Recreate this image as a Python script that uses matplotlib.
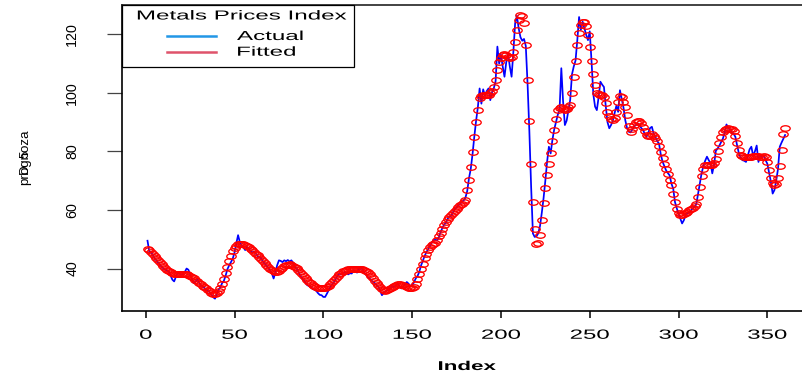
import numpy as np
import matplotlib
matplotlib.use("Agg")
import matplotlib.pyplot as plt
from matplotlib.patheffects import AbstractPathEffect
from matplotlib.transforms import Affine2D
from matplotlib.path import Path
from matplotlib.patches import Rectangle
from matplotlib.lines import Line2D

plt.rcParams['font.family'] = ['Liberation Sans', 'DejaVu Sans']

# fitted values (red circles)
fitted = [
    46.6, 46.2, 45.6, 45.0, 44.3, 43.6, 42.9, 42.2, 41.5, 40.8,
    40.2, 39.6, 39.1, 38.7, 38.4, 38.3, 38.2, 38.2, 38.2, 38.2,
    38.2, 38.1, 38.0, 37.8, 37.5, 37.1, 36.7, 36.2, 35.7, 35.2,
    34.7, 34.2, 33.7, 33.2, 32.7, 32.2, 31.7, 31.4, 31.3, 31.6,
    32.3, 33.3, 34.7, 36.4, 38.4, 40.5, 42.6, 44.4, 45.9, 47.0,
    47.8, 48.3, 48.5, 48.5, 48.3, 48.0, 47.6, 47.2, 46.7, 46.2,
    45.7, 45.1, 44.5, 43.9, 43.3, 42.6, 42.0, 41.3, 40.6, 40.0,
    39.4, 39.0, 38.8, 38.9, 39.3, 39.8, 40.3, 40.8, 41.1, 41.3,
    41.4, 41.3, 41.0, 40.6, 40.1, 39.5, 38.9, 38.2, 37.5, 36.8,
    36.1, 35.5, 34.9, 34.4, 34.0, 33.7, 33.5, 33.3, 33.2, 33.2,
    33.3, 33.6, 34.1, 34.7, 35.4, 36.1, 36.8, 37.5, 38.1, 38.6,
    39.0, 39.3, 39.6, 39.8, 39.9, 40.0, 40.0, 40.0, 40.0, 40.0,
    39.9, 39.8, 39.6, 39.3, 38.8, 38.2, 37.5, 36.7, 35.9, 35.1,
    34.3, 33.6, 33.0, 32.6, 32.5, 32.6, 32.9, 33.3, 33.7, 34.1,
    34.4, 34.6, 34.6, 34.5, 34.3, 34.0, 33.7, 33.4, 33.2, 33.3,
    33.8, 34.8, 36.3, 38.0, 39.8, 41.7, 43.5, 45.1, 46.4, 47.4,
    47.9, 48.3, 48.8, 49.8, 51.0, 52.3, 53.6, 54.8, 55.9, 56.8,
    57.5, 58.2, 58.9, 59.7, 60.5, 61.1, 61.7, 62.2, 62.8, 63.4,
    66.8, 70.2, 74.7, 79.9, 85.0, 90.1, 94.1, 98.1, 99.0, 99.3,
    99.4, 99.3, 99.4, 99.8, 100.5, 102.0, 104.4, 107.8, 110.5, 112.0,
    112.8, 113.2, 112.8, 112.3, 111.8, 112.3, 114.0, 117.5, 121.5, 125.0,
    126.6, 126.2, 123.8, 116.3, 104.4, 90.3, 75.7, 62.8, 53.4, 48.4,
    48.6, 51.4, 56.7, 62.4, 67.6, 72.0, 75.7, 79.5, 83.5, 87.3,
    91.0, 94.1, 94.8, 95.0, 94.6, 94.2, 94.5, 95.0, 95.8, 100.0,
    105.5, 110.9, 116.3, 120.3, 123.2, 124.3, 124.3, 122.8, 119.8, 115.8,
    110.9, 106.3, 102.7, 100.0, 99.6, 99.4, 99.2, 98.7, 96.4, 93.5,
    92.0, 91.2, 90.8, 91.5, 93.5, 97.0, 99.0, 98.5, 97.0, 95.0,
    92.5, 88.6, 86.7, 87.5, 89.0, 90.0, 90.5, 90.3, 89.6, 88.3,
    86.8, 85.6, 85.3, 85.4, 85.8, 85.4, 84.6, 83.6, 82.0, 79.8,
    77.8, 75.8, 74.0, 72.2, 70.4, 68.5, 65.6, 62.6, 60.2, 58.8,
    58.3, 58.2, 58.5, 58.9, 59.4, 59.9, 60.4, 60.8, 61.3, 62.2,
    64.5, 68.0, 71.5, 74.0, 75.2, 75.4, 75.3, 75.2, 75.4, 76.0,
    77.5, 80.2, 82.8, 85.0, 86.5, 87.3, 87.8, 87.9, 87.8, 87.5,
    86.8, 85.2, 83.0, 80.5, 78.9, 78.3, 78.1, 78.0, 78.0, 78.1,
    78.2, 78.3, 78.4, 78.4, 78.3, 78.2, 78.2, 78.3, 78.0, 76.5,
    73.8, 71.0, 69.2, 68.5, 68.8, 71.0, 75.0, 80.5, 85.8, 88.0,
]

# actual values (blue line)
actual = [
    49.5, 45.8, 45.6, 44.6, 43.5, 42.8, 42.0, 41.2, 40.6, 40.0,
    39.6, 39.4, 38.8, 37.6, 36.2, 35.6, 37.2, 38.6, 38.3, 37.8,
    38.2, 38.8, 40.0, 39.6, 38.0, 36.4, 35.0, 35.6, 36.2, 35.2,
    34.4, 33.8, 33.4, 32.6, 32.4, 31.9, 31.0, 30.2, 29.7, 31.2,
    32.8, 33.6, 35.0, 35.8, 37.6, 39.8, 41.1, 42.2, 43.4, 45.5,
    48.6, 51.4, 49.0, 48.0, 47.2, 46.3, 47.4, 46.8, 46.0, 45.5,
    45.8, 45.1, 44.2, 44.0, 43.4, 42.4, 41.7, 41.0, 40.2, 39.4,
    38.4, 36.6, 38.6, 41.1, 42.8, 42.6, 42.2, 42.8, 42.5, 42.9,
    42.4, 42.8, 42.0, 40.6, 40.0, 38.8, 37.6, 36.6, 36.0, 35.2,
    34.3, 34.0, 33.8, 33.0, 32.8, 32.4, 31.6, 31.0, 30.9, 30.3,
    30.3, 31.4, 32.6, 33.8, 34.6, 35.4, 36.5, 37.6, 38.3, 38.0,
    38.4, 38.8, 38.6, 38.0, 38.4, 38.3, 39.4, 39.0, 38.6, 39.8,
    40.6, 39.6, 38.6, 38.0, 37.1, 36.6, 36.0, 35.4, 35.0, 34.4,
    33.7, 32.4, 30.9, 31.6, 32.2, 32.6, 33.0, 33.6, 34.0, 33.7,
    34.2, 34.8, 33.8, 33.2, 33.8, 34.6, 35.4, 34.8, 34.0, 34.4,
    35.2, 36.6, 37.4, 38.8, 41.0, 42.6, 44.2, 45.6, 46.6, 47.8,
    48.8, 49.7, 49.8, 49.6, 50.6, 52.4, 53.8, 55.0, 55.6, 57.0,
    57.8, 58.0, 59.2, 60.4, 60.8, 61.6, 62.0, 62.8, 63.2, 64.2,
    66.4, 70.8, 74.0, 79.0, 85.0, 90.4, 95.0, 101.5, 96.3, 101.2,
    99.0, 100.6, 101.5, 97.5, 100.2, 101.6, 104.0, 115.8, 110.0, 113.0,
    109.0, 105.5, 110.5, 113.5, 109.0, 105.5, 114.0, 123.8, 126.3, 122.0,
    119.0, 117.8, 118.4, 116.0, 103.0, 87.0, 68.0, 52.0, 50.8, 51.0,
    52.0, 54.5, 59.0, 64.0, 70.0, 76.5, 81.6, 79.3, 84.0, 87.5,
    90.0, 92.5, 94.1, 108.4, 97.0, 89.0, 90.5, 94.0, 97.6, 106.3,
    109.0, 111.0, 118.0, 125.9, 121.5, 124.3, 122.0, 119.8, 118.0, 121.0,
    110.9, 99.6, 95.3, 94.1, 98.5, 103.8, 102.8, 102.0, 95.6, 90.0,
    87.9, 89.0, 90.5, 93.0, 95.6, 93.5, 100.9, 98.0, 95.0, 90.7,
    88.0, 86.7, 86.5, 87.5, 88.5, 89.0, 89.6, 89.0, 88.0, 87.3,
    86.0, 85.0, 86.5, 88.0, 88.4, 86.0, 85.0, 83.5, 82.7, 79.0,
    76.5, 75.0, 73.5, 72.6, 71.8, 69.0, 67.3, 62.7, 60.6, 58.7,
    57.0, 55.4, 56.5, 58.4, 58.8, 59.2, 59.8, 60.6, 61.0, 62.0,
    65.6, 69.0, 72.6, 75.0, 76.8, 78.2, 77.0, 76.0, 72.5, 75.5,
    80.2, 81.0, 82.0, 83.2, 84.4, 86.5, 89.2, 88.0, 87.3, 86.5,
    86.0, 85.0, 82.0, 79.3, 78.0, 77.0, 76.8, 76.4, 78.5, 80.7,
    81.6, 78.5, 80.0, 82.0, 76.4, 78.8, 78.0, 78.6, 77.0, 75.8,
    72.6, 69.6, 65.6, 66.8, 70.0, 74.0, 81.6, 83.0, 84.3, 85.6,
]

xticks = [0, 50, 100, 150, 200, 250, 300, 350]
yticks = [40, 60, 80, 100, 120]
legend_title = "Metals Prices Index"
legend_labels = ["Actual", "Fitted"]
legend_colors = ["#2297E6", "#DF536B"]


class Stretch(AbstractPathEffect):
    # widen text horizontally, like the stretched R device output
    def __init__(self, sx, anchor="center"):
        super().__init__()
        self.sx = sx
        self.anchor = anchor

    def draw_path(self, renderer, gc, tpath, affine, rgbFace=None):
        ext = tpath.get_extents(affine)
        cx = ext.x0 if self.anchor == "left" else (ext.x0 + ext.x1) / 2
        st = Affine2D().translate(-cx, 0).scale(self.sx, 1).translate(cx, 0)
        renderer.draw_path(gc, tpath, affine + st, rgbFace)


W, H = 802, 379
fig = plt.figure(figsize=(W / 100, H / 100), dpi=100)

def fx(x):
    return x / W

def fy(y):
    return 1 - y / H

ax = fig.add_axes([fx(122), fy(311), 688.6 / W, (311 - 4.7) / H])

idx = np.arange(1, len(actual) + 1)
ax.plot(idx, actual, color="#0000FF", lw=1.25, zorder=2)

ellipse = Path.unit_circle().transformed(Affine2D().scale(1, 0.58))
ax.plot(idx, fitted, linestyle="none", marker=ellipse, markersize=6.8,
        markerfacecolor="none", markeredgecolor="#FF0000",
        markeredgewidth=0.95, zorder=3)

ax.set_xlim(-13.36, 374.36)
ax.set_ylim(25.5, 130.1)

for s in ["left", "bottom", "top", "right"]:
    ax.spines[s].set_linewidth(1.2)
ax.spines["top"].set_color("#222222")

ax.set_xticks(xticks)
ax.set_yticks(yticks)
ax.tick_params(axis="x", direction="out", length=5, width=1.1, color="black",
               pad=8.5, labelsize=9.6)
ax.tick_params(axis="y", direction="out", length=10.8, width=0.9,
               color="#444444", pad=20, labelsize=10.3, labelrotation=90)
for lab in ax.get_yticklabels():
    lab.set_va("center")
for t in ax.xaxis.get_major_ticks():
    t.label1.set_path_effects([Stretch(1.8)])

# axis titles (the reference shows two y labels printed on top of each other)
fig.text(fx(467), fy(367), "Index", ha="center", va="center",
         fontsize=9.2, fontweight="bold", path_effects=[Stretch(1.75)])
fig.text(fx(25), fy(157), "prognoza", ha="center", va="center",
         rotation=90, fontsize=9.6)
fig.text(fx(25), fy(169), "D", ha="center", va="center", rotation=90,
         fontsize=9.6)
fig.text(fx(25), fy(154), "5", ha="center", va="center", rotation=90,
         fontsize=9.6)

# legend drawn in figure pixels
fig.add_artist(Rectangle((fx(122), fy(67)), (354 - 122) / W, (67 - 4.7) / H,
                         transform=fig.transFigure, facecolor="white",
                         edgecolor="black", lw=0.9, zorder=5))
fig.text(fx(241.7), fy(16.5), legend_title, ha="center", va="center",
         fontsize=9.4, zorder=6, path_effects=[Stretch(1.85)])
for k, (lab, col) in enumerate(zip(legend_labels, legend_colors)):
    yy = 36 + k * 15.7
    fig.add_artist(Line2D([fx(166.7), fx(216)], [fy(yy), fy(yy)],
                          transform=fig.transFigure, color=col, lw=1.8,
                          zorder=6))
    fig.text(fx(237), fy(yy + 1), lab, ha="left", va="center", fontsize=9.4,
             zorder=6, path_effects=[Stretch(1.85, anchor="left")])

fig.savefig("out.png", dpi=100)
